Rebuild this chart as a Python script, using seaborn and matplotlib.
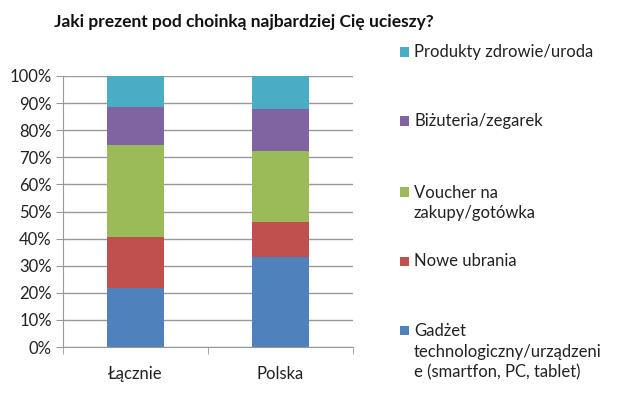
import numpy as np
import pandas as pd
import matplotlib.pyplot as plt
import matplotlib.patches as mpatches
import seaborn as sns

# ── Data ──────────────────────────────────────────────────────────────────────
categories = ["Łącznie", "Polska"]
series_names = [
    "Gadżet\ntechnologiczny/urządzeni\ne (smartfon, PC, tablet)",
    "Nowe ubrania",
    "Voucher na\nzakupy/gotówka",
    "Biżuteria/zegarek",
    "Produkty zdrowie/uroda",
]
gadzet = [21.8, 33.3]
ubrania = [18.8, 13.0]
voucher = [33.9, 26.0]
bizuteria = [13.9, 15.4]
produkty = [11.6, 12.3]
yticks = [0, 10, 20, 30, 40, 50, 60, 70, 80, 90, 100]

colors = ["#4F81BD", "#C0504D", "#9BBB59", "#8064A2", "#4BACC6"]

# ── Plot ──────────────────────────────────────────────────────────────────────
sns.set_style("white")
plt.rcParams["font.family"] = ["Lato", "DejaVu Sans"]

fig = plt.figure(figsize=(6.18, 3.98), dpi=100)
ax = fig.add_axes([63 / 618, 1 - 347 / 398, 290 / 618, 271 / 398])

values = [gadzet, ubrania, voucher, bizuteria, produkty]
bottom = np.zeros(len(categories))
for name, vals, col in zip(series_names, values, colors):
    df = pd.DataFrame({"cat": categories, "val": vals})
    sns.barplot(data=df, x="cat", y="val", color=col, width=0.39,
                bottom=bottom, ax=ax, saturation=1, edgecolor="none")
    bottom = bottom + np.array(vals)

ax.set_ylim(0, 100)
ax.set_xlim(-0.5, 1.5)
ax.set_yticks(yticks)
ax.set_yticklabels([f"{t}%" for t in yticks], fontsize=12, color="#222222")
ax.yaxis.grid(True, color="#999999", lw=1)
ax.set_axisbelow(True)
ax.set_xlabel("")
ax.set_ylabel("")
ax.set_xticks([0, 1])
ax.set_xticklabels(categories, fontsize=12, color="#222222")
ax.set_xticks([-0.5, 0.5, 1.5], minor=True)
ax.tick_params(axis="x", which="major", length=0, pad=14)
ax.tick_params(axis="x", which="minor", length=5, color="#999999", direction="out", bottom=True)
ax.tick_params(axis="y", length=5, color="#999999", direction="out", left=True, pad=3)
for s in ["top", "right"]:
    ax.spines[s].set_visible(False)
ax.spines["left"].set_color("#999999")
ax.spines["bottom"].set_color("#999999")

fig.text(244 / 618, 1 - 22 / 398, "Jaki prezent pod choinką najbardziej Cię ucieszy?",
         ha="center", va="center", fontsize=12.5, fontweight="bold", color="#111111")

# legend, top to bottom
legend_y = [52, 121, 203, 261, 352]
for name, col, yc in zip(series_names[::-1], colors[::-1], legend_y):
    n_lines = name.count("\n") + 1
    top_line = yc - (n_lines - 1) * 22 / 2
    fig.patches.append(mpatches.Rectangle((400 / 618, 1 - (top_line + 4.5) / 398), 9 / 618, 9 / 398,
                                          transform=fig.transFigure, facecolor=col,
                                          edgecolor="none"))
    fig.text(414 / 618, 1 - yc / 398, name, ha="left", va="center", fontsize=12,
             color="#222222", linespacing=1.35)

fig.savefig("out.png", dpi=100)
